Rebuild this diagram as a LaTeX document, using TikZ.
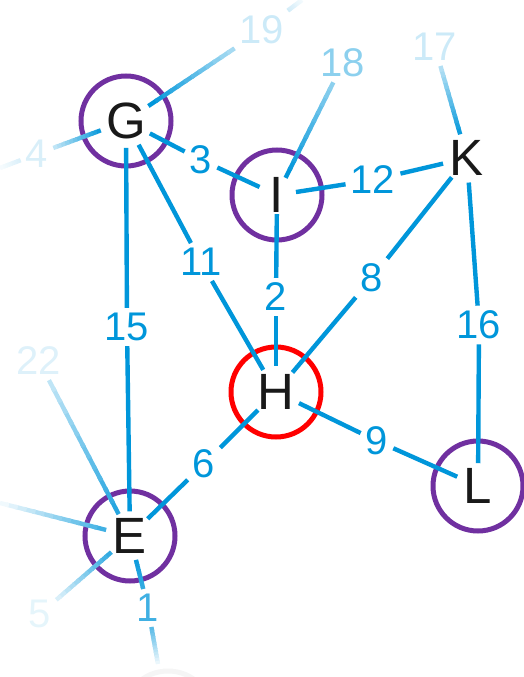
\documentclass[tikz,border=0pt]{standalone}
\usepackage{fontspec}
\setmainfont{Liberation Sans}
\usetikzlibrary{calc}

\definecolor{edgeblue}{RGB}{0,150,218}
\definecolor{ringpurple}{RGB}{112,48,160}
\definecolor{ringred}{RGB}{255,0,0}
\definecolor{ink}{RGB}{25,25,25}

\tikzset{
  vertex/.style={circle, minimum size=38pt, inner sep=0pt, text=ink,
                 font=\fontsize{51}{51}\selectfont},
  ring/.style={circle, draw=#1, line width=5pt, minimum size=90pt, inner sep=0pt},
  weight/.style={inner sep=5pt, text=edgeblue, font=\fontsize{40}{40}\selectfont},
  edge/.style={draw=edgeblue, line width=4.4pt},
}

% edge whose colour runs from #3 % to #4 % of the edge blue
\newcommand\fadeedge[4]{%
  \path (#1) -- (#2) coordinate[pos=0] (fe-a) coordinate[pos=1] (fe-b);
  \foreach \k in {0,...,11}{%
    \pgfmathtruncatemacro\fadepct{#3+(#4-#3)*\k/11}%
    \draw[edge, draw=edgeblue!\fadepct!white]
      ($(fe-a)!\k/12!(fe-b)$) -- ($(fe-a)!{min((\k+1.3)/12,1)}!(fe-b)$);
  }%
}

\begin{document}
\begin{tikzpicture}[x=1pt, y=-1pt]
  \useasboundingbox (0,0) rectangle (524,677);
  \clip (0,0) rectangle (524,677);

  % vertices
  \node[vertex] (G) at (126,121) {G};
  \node[vertex] (I) at (277,195) {I};
  \node[vertex] (K) at (467,158) {K};
  \node[vertex] (H) at (276,392) {H};
  \node[vertex] (L) at (478,486) {L};
  \node[vertex] (E) at (130,536) {E};

  % rings
  \node[ring=ringpurple] (Gr) at (G) {};
  \node[ring=ringpurple] (Ir) at (I) {};
  \node[ring=ringred]    (Hr) at (H) {};
  \node[ring=ringpurple] (Lr) at (L) {};
  \node[ring=ringpurple] (Er) at (E) {};
  \node[ring=gray!8]     (ghost) at (168,716) {};

  % weights
  \node[weight] (w3)  at (201,160) {3};
  \node[weight] (w12) at (373,180) {12};
  \node[weight] (w11) at (201,262) {11};
  \node[weight] (w2)  at (276,297) {2};
  \node[weight] (w8)  at (372,278) {8};
  \node[weight] (w15) at (127,327) {15};
  \node[weight] (w16) at (479,325) {16};
  \node[weight] (w6)  at (204,464) {6};
  \node[weight] (w9)  at (377,441) {9};
  \node[weight, text=edgeblue!75] (w1) at (148,608) {1};
  \node[weight, text=edgeblue!20] (w19) at (262,30) {19};
  \node[weight, text=edgeblue!45] (w18) at (343,63) {18};
  \node[weight, text=edgeblue!20] (w17) at (435,47) {17};
  \node[weight, text=edgeblue!15] (w4)  at (37,154) {4};
  \node[weight, text=edgeblue!13] (w22) at (39,361) {22};
  \node[weight, text=edgeblue!10] (w5)  at (40,614) {5};

  % loose ends
  \coordinate (c19)   at (302,0);
  \coordinate (c4)    at (0,168);
  \coordinate (cleft) at (0,503);
  \coordinate (cbot)  at (158,664);

  % edges
  \draw[edge] (G) -- (w3);   \draw[edge] (w3) -- (I);
  \draw[edge] (G) -- (w11);  \draw[edge] (w11) -- (H);
  \draw[edge] (G) -- (w15);  \draw[edge] (w15) -- (E);
  \draw[edge] (I) -- (w12);  \draw[edge] (w12) -- (K);
  \draw[edge] (I) -- (w2);   \draw[edge] (w2) -- (H);
  \draw[edge] (K) -- (w8);   \draw[edge] (w8) -- (H);
  \draw[edge] (K) -- (w16);  \draw[edge] (w16) -- (L);
  \draw[edge] (H) -- (w6);   \draw[edge] (w6) -- (E);
  \draw[edge] (H) -- (w9);   \draw[edge] (w9) -- (L);

  % edges running out of view
  \fadeedge{G}{w19}{100}{35}
  \fadeedge{w19}{c19}{18}{5}
  \fadeedge{G}{w4}{95}{25}
  \fadeedge{w4}{c4}{14}{4}
  \fadeedge{I}{w18}{100}{45}
  \fadeedge{K}{w17}{95}{30}
  \fadeedge{E}{w22}{85}{25}
  \fadeedge{E}{cleft}{75}{6}
  \fadeedge{E}{w5}{80}{15}
  \fadeedge{E}{w1}{95}{80}
  \fadeedge{w1}{cbot}{65}{8}
\end{tikzpicture}
\end{document}
